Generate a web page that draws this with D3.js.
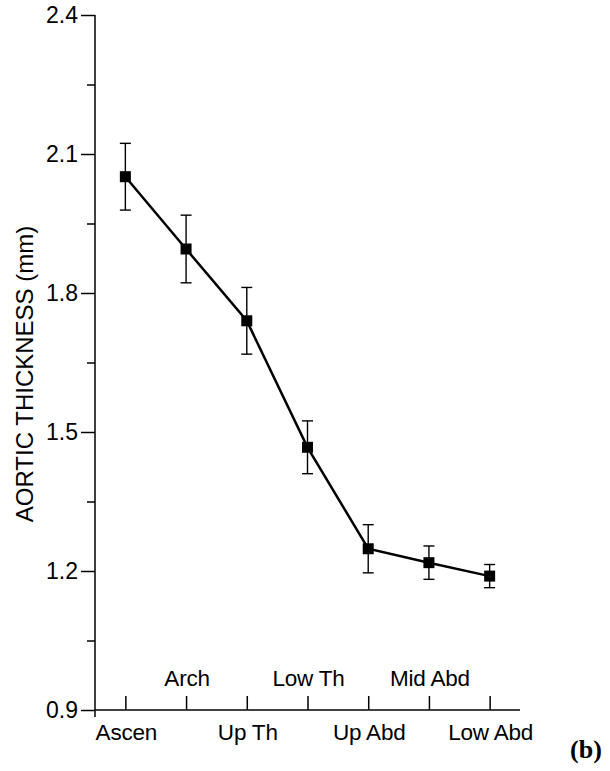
<!DOCTYPE html>
<html>
<head>
<meta charset="utf-8">
<script src="https://cdn.jsdelivr.net/npm/d3@7"></script>
<style>
  body { margin: 0; background: #fff; }
  text { font-family: "Liberation Sans", Arial, sans-serif; fill: #000; }
</style>
</head>
<body>
<div id="chart"></div>
<script>
// data
var sites = ["Ascen", "Arch", "Up Th", "Low Th", "Up Abd", "Mid Abd", "Low Abd"];
var thickness = [2.051, 1.895, 1.740, 1.467, 1.248, 1.218, 1.189];
var errSize = [0.072, 0.073, 0.072, 0.057, 0.052, 0.036, 0.025];
var yMajorTicks = [0.9, 1.2, 1.5, 1.8, 2.1, 2.4];
var yMinorTicks = [1.05, 1.35, 1.65, 1.95, 2.25];

var svgWidth = 610;
var svgHeight = 771;

var plot = { left: 95, right: 520, top: 15, bottom: 710 };

var svg = d3.select("#chart")
  .append("svg")
  .attr("width", svgWidth)
  .attr("height", svgHeight);

var xScale = d3.scalePoint()
  .domain(sites)
  .range([plot.left, plot.right])
  .padding(0.5);

var yScale = d3.scaleLinear()
  .domain([0.9, 2.4])
  .range([plot.bottom, plot.top]);

// y axis, major ticks with labels
var leftAxis = d3.axisLeft(yScale)
  .tickValues(yMajorTicks)
  .tickSize(14)
  .tickPadding(3)
  .tickFormat(d3.format(".1f"));

var yAxis = svg.append("g")
  .attr("transform", `translate(${plot.left},0)`)
  .call(leftAxis);
yAxis.select(".domain").remove();
yAxis.selectAll("line").attr("stroke", "#000").attr("stroke-width", 1.5);
yAxis.selectAll("text")
  .attr("font-size", "23px")
  .attr("font-family", "Liberation Sans, Arial, sans-serif");

// y axis, minor ticks
var minorAxis = d3.axisLeft(yScale)
  .tickValues(yMinorTicks)
  .tickSize(8)
  .tickFormat("");
var yMinor = svg.append("g")
  .attr("transform", `translate(${plot.left},0)`)
  .call(minorAxis);
yMinor.select(".domain").remove();
yMinor.selectAll("line").attr("stroke", "#000").attr("stroke-width", 1.5);

// x axis, ticks pointing up into the plot
var bottomAxis = d3.axisBottom(xScale)
  .tickSize(-14)
  .tickFormat("");
var xAxis = svg.append("g")
  .attr("transform", `translate(0,${plot.bottom})`)
  .call(bottomAxis);
xAxis.select(".domain").remove();
xAxis.selectAll("line").attr("stroke", "#000").attr("stroke-width", 1.5);

// axis lines
svg.append("line")
  .attr("x1", plot.left).attr("x2", plot.left)
  .attr("y1", yScale(2.4)).attr("y2", plot.bottom + 7)
  .attr("stroke", "#000").attr("stroke-width", 1.5);
svg.append("line")
  .attr("x1", plot.left).attr("x2", plot.right)
  .attr("y1", plot.bottom).attr("y2", plot.bottom)
  .attr("stroke", "#000").attr("stroke-width", 1.5);

// category labels alternate below / above the axis
svg.append("g").selectAll("text")
  .data(sites)
  .enter()
  .append("text")
  .attr("x", d => xScale(d) + 1)
  .attr("y", (d, i) => i % 2 === 0 ? plot.bottom + 30 : plot.bottom - 24)
  .attr("text-anchor", "middle")
  .attr("font-size", "22.5px")
  .attr("letter-spacing", "-0.2px")
  .text(d => d);

// y title
svg.append("text")
  .attr("transform", "rotate(-90)")
  .attr("x", -374)
  .attr("y", 33)
  .attr("text-anchor", "middle")
  .attr("font-size", "24px")
  .text("AORTIC THICKNESS (mm)");

var points = sites.map((s, i) => ({ site: s, value: thickness[i], err: errSize[i] }));

// error bars
var bars = svg.append("g").selectAll("g")
  .data(points)
  .enter()
  .append("g")
  .attr("stroke", "#000")
  .attr("stroke-width", 1.4);

bars.append("line")
  .attr("x1", d => xScale(d.site)).attr("x2", d => xScale(d.site))
  .attr("y1", d => yScale(d.value + d.err)).attr("y2", d => yScale(d.value - d.err));
bars.append("line")
  .attr("x1", d => xScale(d.site) - 5.5).attr("x2", d => xScale(d.site) + 5.5)
  .attr("y1", d => yScale(d.value + d.err)).attr("y2", d => yScale(d.value + d.err));
bars.append("line")
  .attr("x1", d => xScale(d.site) - 5.5).attr("x2", d => xScale(d.site) + 5.5)
  .attr("y1", d => yScale(d.value - d.err)).attr("y2", d => yScale(d.value - d.err));

// connecting line
var line = d3.line()
  .x(d => xScale(d.site))
  .y(d => yScale(d.value));

svg.append("path")
  .datum(points)
  .attr("d", line)
  .attr("fill", "none")
  .attr("stroke", "#000")
  .attr("stroke-width", 2.5);

// square markers
svg.append("g").selectAll("rect")
  .data(points)
  .enter()
  .append("rect")
  .attr("x", d => xScale(d.site) - 5.5)
  .attr("y", d => yScale(d.value) - 5.5)
  .attr("width", 11)
  .attr("height", 11)
  .attr("fill", "#000");

// panel label
svg.append("text")
  .attr("x", 586)
  .attr("y", 758)
  .attr("text-anchor", "middle")
  .attr("font-weight", "bold")
  .attr("font-size", "26px")
  .style("font-family", "'Liberation Serif', 'Times New Roman', serif")
  .text("(b)");
</script>
</body>
</html>
